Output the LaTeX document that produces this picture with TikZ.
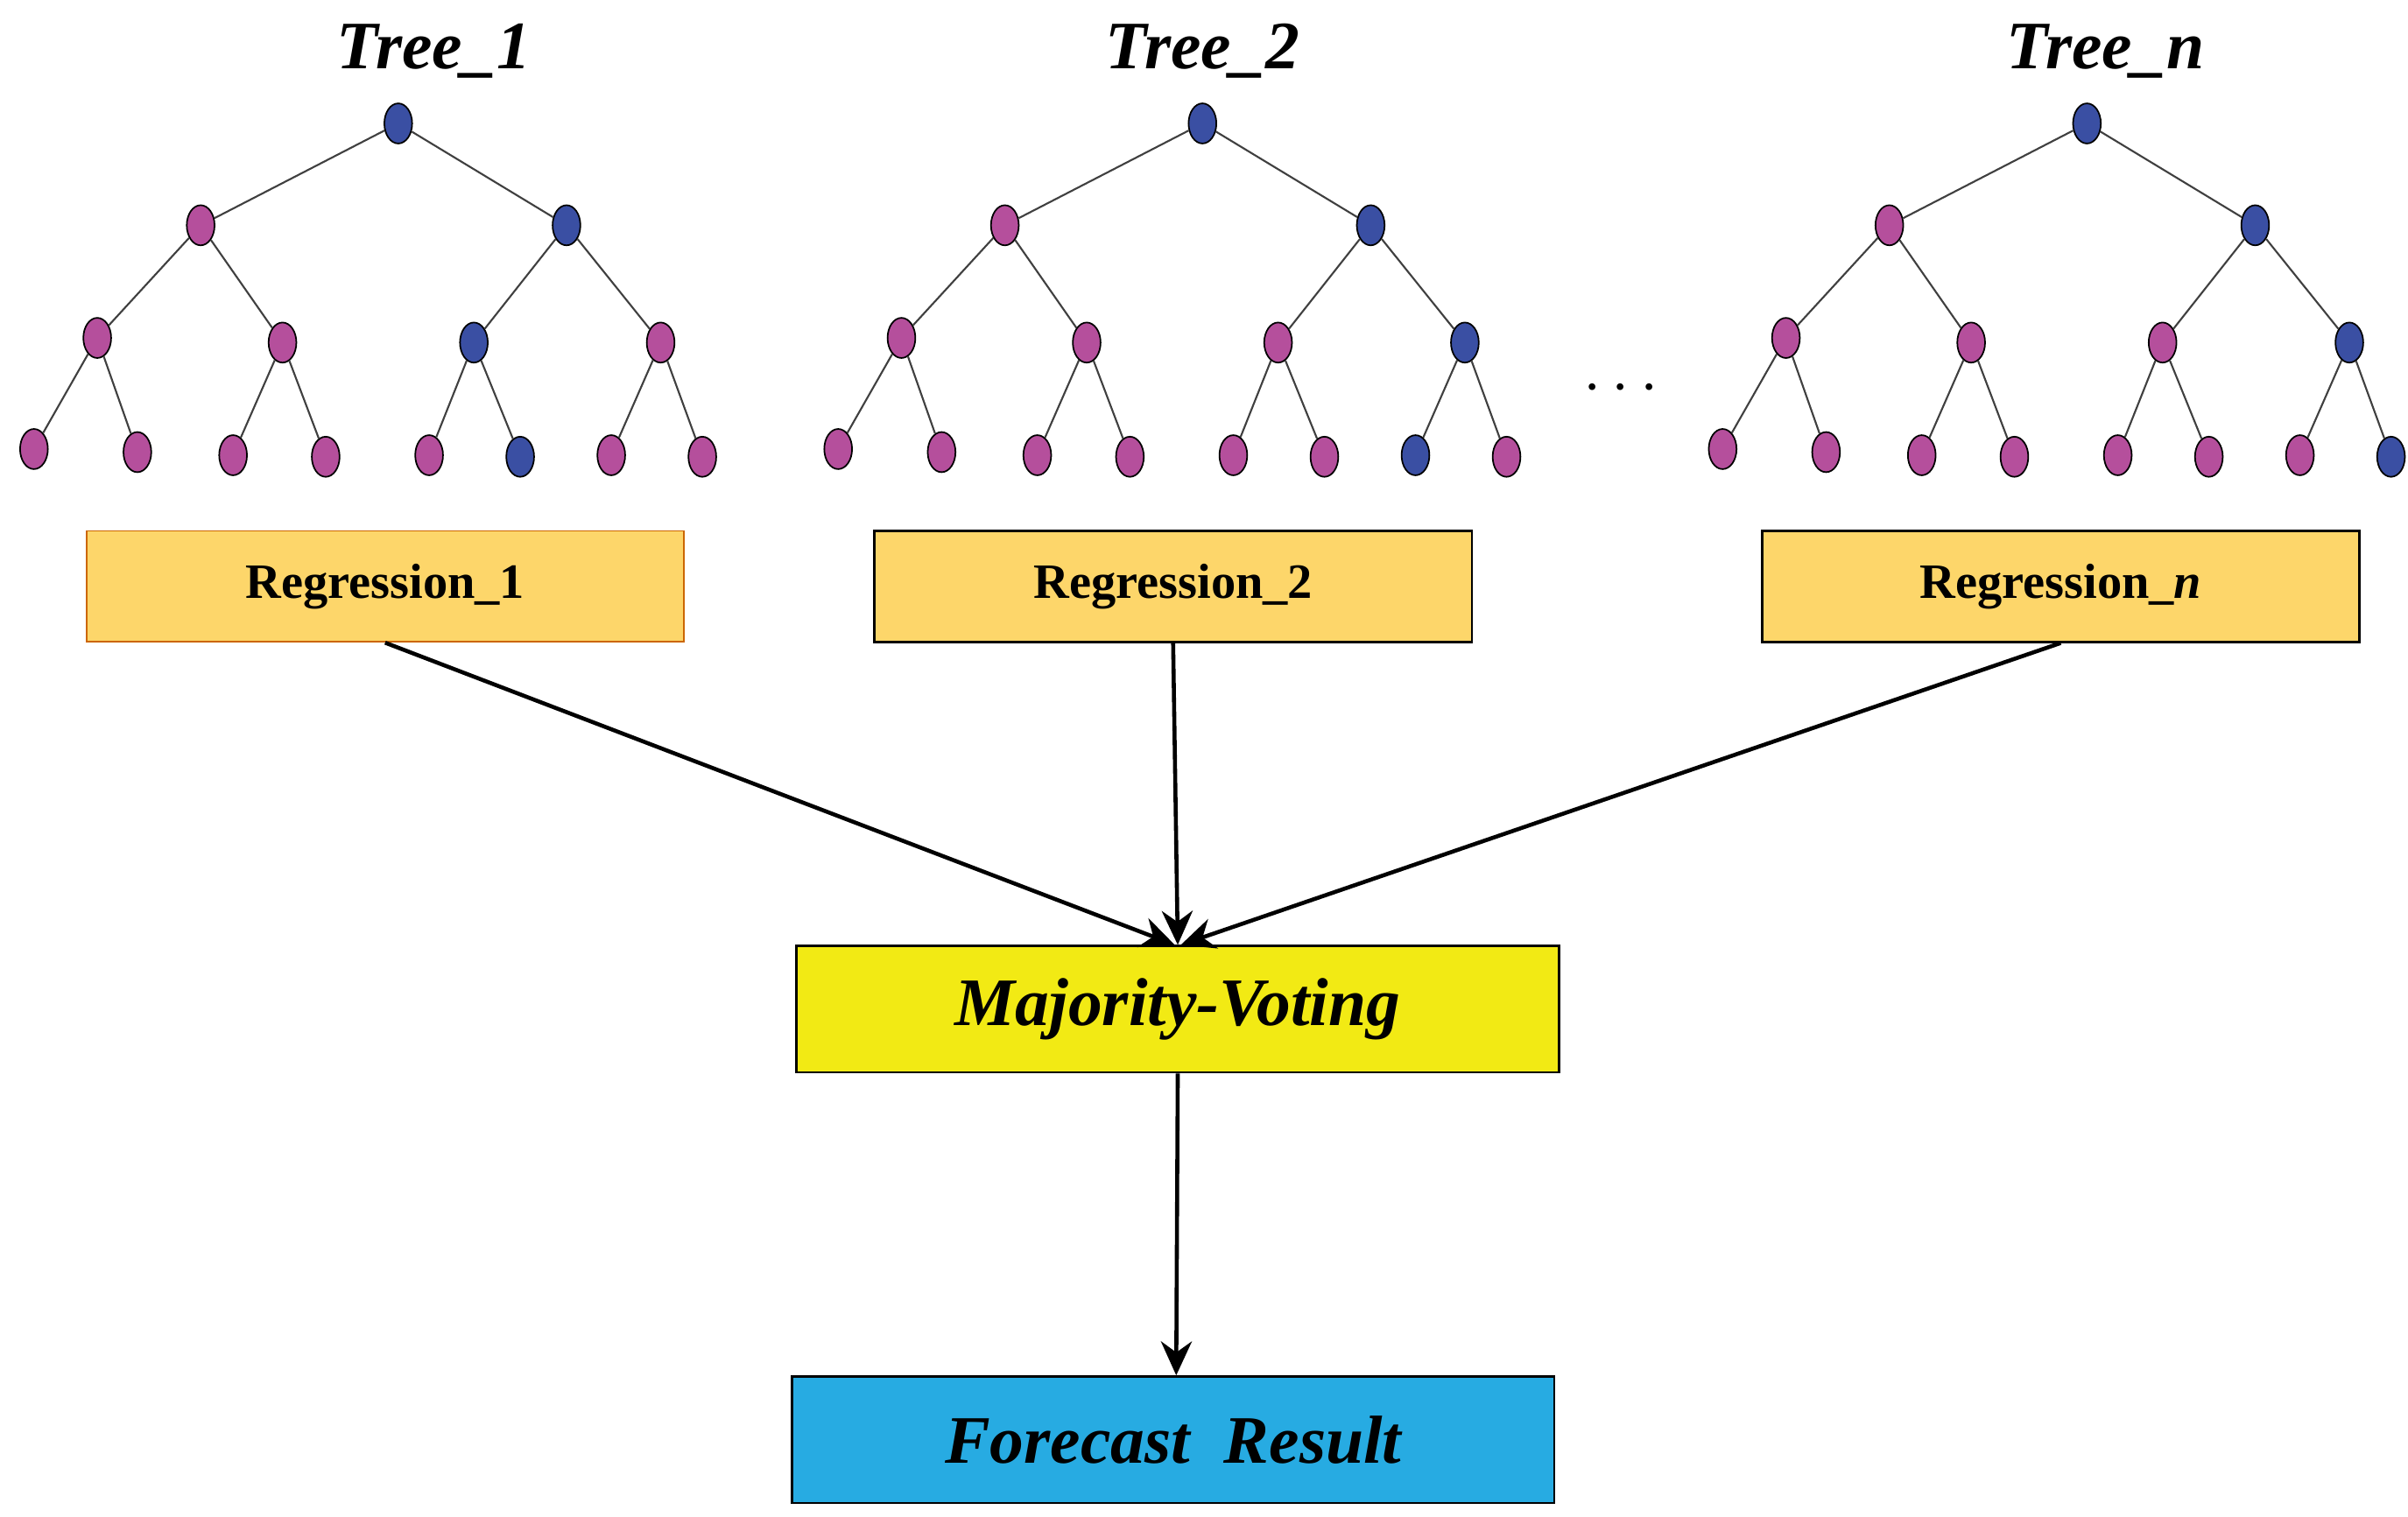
\documentclass[tikz,border=0pt]{standalone}
\usepackage{fontspec}
\setmainfont{Liberation Serif}
\usetikzlibrary{arrows.meta}
\usetikzlibrary{shapes.geometric}
\definecolor{nblue}{HTML}{3A4FA3}
\definecolor{nmag}{HTML}{B54F9C}
\definecolor{regfill}{HTML}{FDD66A}
\definecolor{votefill}{HTML}{F2EA14}
\definecolor{resfill}{HTML}{27ABE2}
\begin{document}
\begin{tikzpicture}[x=0.5pt,y=-0.5pt]
    \tikzstyle{v} = [draw=black,line width=0.5pt,ellipse,inner sep=0pt,minimum width=9pt,minimum height=13pt]
    \tikzstyle{e} = [draw=black!75,line width=0.6pt]
    \tikzstyle{reg} = [draw,line width=0.7pt,fill=regfill,minimum width=193.5pt,minimum height=36pt,font=\fontsize{16}{18}\selectfont\bfseries]
    \tikzstyle{big} = [draw,line width=0.7pt,minimum width=247pt,minimum height=41pt,font=\fontsize{22}{24}\selectfont\bfseries\itshape]
    \tikzstyle{ttl} = [font=\fontsize{22}{24}\selectfont\bfseries\itshape]
    \tikzstyle{arr} = [draw,line width=1.3pt,-{Stealth[length=11pt,width=10pt]}]
    \useasboundingbox (0,0) rectangle (1560,983);
    % trees
    \foreach \t/\dx/\bb/\bc in {1/0/3/6,2/521/4/7,n/1094/4/8} {
      \node [v,fill=nblue] (t\t-r) at (258+\dx,80) {};
      \node [v,fill=nmag] (t\t-a1) at (130+\dx,146) {};
      \node [v,fill=nblue] (t\t-a2) at (367+\dx,146) {};
      \foreach \j/\x/\y in {1/-195/219,2/-75/222,3/49/222,4/170/222} {
        \ifnum\j=\bb \def\col{nblue}\else\def\col{nmag}\fi
        \node [v,fill=\col] (t\t-b\j) at (258+\dx+\x,\y) {};
      }
      \foreach \j/\x/\y in {1/-236/291,2/-169/293,3/-107/295,4/-47/296,5/20/295,6/79/296,7/138/295,8/197/296} {
        \ifnum\j=\bc \def\col{nblue}\else\def\col{nmag}\fi
        \node [v,fill=\col] (t\t-c\j) at (258+\dx+\x,\y) {};
      }
      \path [e] (t\t-r) -- (t\t-a1) (t\t-r) -- (t\t-a2);
      \path [e] (t\t-a1) -- (t\t-b1) (t\t-a1) -- (t\t-b2) (t\t-a2) -- (t\t-b3) (t\t-a2) -- (t\t-b4);
      \foreach \j [evaluate=\j as \p using {int(2*\j-1)}, evaluate=\j as \q using {int(2*\j)}] in {1,2,3,4}
        \path [e] (t\t-b\j) -- (t\t-c\p) (t\t-b\j) -- (t\t-c\q);
    }
    \node [ttl] (ttl1) at (281,33) {Tree\_1};
    \node [ttl] (ttl2) at (779,33) {Tree\_2};
    \node [ttl] (ttln) at (1364,33) {Tree\_\textit{n}};
    \node [font=\fontsize{22}{24}\selectfont\bfseries] (dots) at (1050,252) {$\cdots$};
    % boxes
    \node [reg,draw=orange!80!black,line width=0.5pt] (reg1) at (249.5,380) {Regression\_1};
    \node [reg] (reg2) at (760,380) {Regression\_2};
    \node [reg] (regn) at (1335,380) {Regression\_\textit{n}};
    \node [big,fill=votefill] (vote) at (763,654) {Majority-Voting};
    \node [big,fill=resfill] (res) at (760,933) {Forecast\ \ Result};
    % arrows
    \path [arr] (reg1.south) -- ([xshift=-1pt]vote.north);
    \path [arr] (reg2.south) -- (vote.north);
    \path [arr] (regn.south) -- ([xshift=1pt]vote.north);
    \path [arr] (vote.south) -- ([xshift=1pt]res.north);
\end{tikzpicture}
\end{document}
